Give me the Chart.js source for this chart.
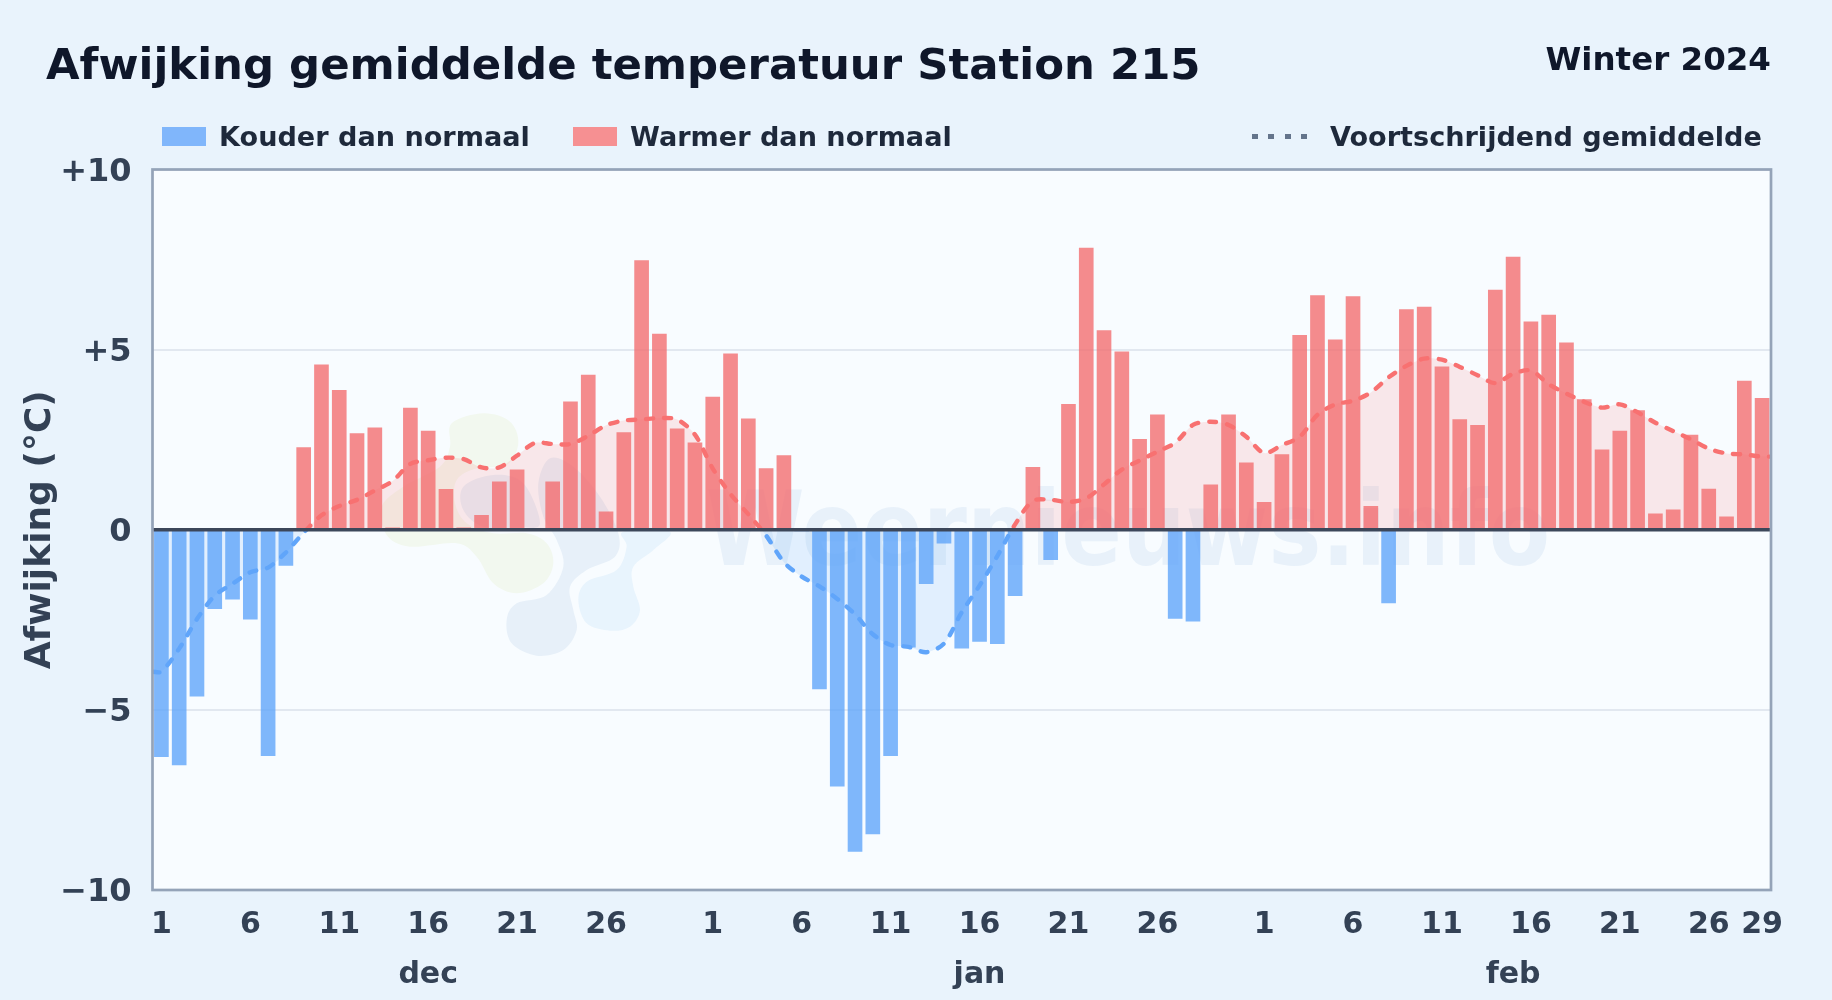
<!DOCTYPE html>
<html lang="nl">
<head>
<meta charset="utf-8">
<title>Afwijking gemiddelde temperatuur Station 215</title>
<script src="https://cdn.jsdelivr.net/npm/chart.js@4"></script>
<style>
  html, body { margin: 0; padding: 0; background: #e9f3fc; }
  body { width: 1832px; height: 1000px; position: relative; overflow: hidden; font-family: "DejaVu Sans", sans-serif; font-weight: 700; }
  canvas { position: absolute; left: 0; top: 0; }
  .txt { position: absolute; white-space: nowrap; line-height: 1; }
  #title { left: 46px; top: 43px; font-size: 43.4px; color: #0f172a; }
  #season { right: 61px; top: 43px; font-size: 32.5px; color: #0f172a; }
  .leg { font-size: 27.1px; color: #1e293b; top: 123px; }
  .sw { position: absolute; top: 127px; width: 44px; height: 19px; }
  #dots { position: absolute; left: 1252px; top: 134px; width: 56px; height: 5px;
    background: repeating-linear-gradient(90deg, #64748b 0 6px, transparent 6px 16.5px); }
</style>
</head>
<body>
<canvas id="chart" width="1832" height="1000"></canvas>
<div id="title" class="txt">Afwijking gemiddelde temperatuur Station 215</div>
<div id="season" class="txt">Winter 2024</div>
<div class="sw" style="left:162px;background:#80b6fb"></div>
<div class="txt leg" style="left:219px">Kouder dan normaal</div>
<div class="sw" style="left:573px;background:#f69092"></div>
<div class="txt leg" style="left:630px">Warmer dan normaal</div>
<div id="dots"></div>
<div class="txt leg" style="left:1330px">Voortschrijdend gemiddelde</div>
<script>
/* daily deviation from normal, 1 dec - 29 feb */
const decDev = [-6.3, -6.53, -4.62, -2.19, -1.93, -2.48, -6.27, -0.99, 2.28, 4.58, 3.87, 2.67, 2.83, 0.05, 3.38, 2.74, 1.12, 0.05, 0.4, 1.33, 1.66, 0, 1.33, 3.55, 4.29, 0.5, 2.7, 7.47, 5.43, 2.8, 2.41];
const janDev = [3.68, 4.88, 3.08, 1.7, 2.06, -0.03, -4.42, -7.12, -8.93, -8.44, -6.27, -3.26, -1.5, -0.37, -3.29, -3.1, -3.16, -1.83, 1.73, -0.83, 3.48, 7.82, 5.53, 4.94, 2.51, 3.19, -2.46, -2.54, 1.25, 3.19, 1.86];
const febDev = [0.76, 2.09, 5.4, 6.5, 5.27, 6.47, 0.65, -2.03, 6.11, 6.18, 4.52, 3.06, 2.9, 6.65, 7.57, 5.77, 5.96, 5.19, 3.61, 2.22, 2.74, 3.31, 0.44, 0.55, 2.63, 1.13, 0.36, 4.13, 3.65];

/* moving average, same days */
const decAvg = [-3.94, -3.3, -2.48, -1.83, -1.5, -1.18, -1.05, -0.63, -0.08, 0.4, 0.66, 0.83, 1.09, 1.35, 1.83, 1.93, 2.0, 1.96, 1.73, 1.73, 2.06, 2.41, 2.38, 2.38, 2.61, 2.9, 3.03, 3.06, 3.1, 3.06, 2.64];
const janAvg = [1.7, 0.99, 0.43, -0.16, -0.9, -1.3, -1.57, -1.92, -2.35, -2.9, -3.2, -3.25, -3.4, -3.16, -2.29, -1.55, -0.73, 0.15, 0.8, 0.83, 0.77, 0.87, 1.26, 1.67, 1.92, 2.17, 2.41, 2.91, 3.0, 2.91, 2.58];
const febAvg = [2.13, 2.35, 2.58, 3.19, 3.48, 3.58, 3.81, 4.23, 4.55, 4.75, 4.72, 4.52, 4.29, 4.07, 4.33, 4.42, 4.04, 3.78, 3.55, 3.39, 3.48, 3.26, 2.97, 2.74, 2.51, 2.25, 2.12, 2.09, 2.03];

const tickPos = [1, 6, 11, 16, 21, 26, 32, 37, 42, 47, 52, 57, 63, 68, 73, 78, 83, 88, 91];
const tickLabels = ['1', '6', '11', '16', '21', '26', '1', '6', '11', '16', '21', '26', '1', '6', '11', '16', '21', '26', '29'];
const monthPos = [16, 47, 77];
const monthLabels = ['dec', 'jan', 'feb'];
const yTicks = [-10, -5, 0, 5, 10];
const yLabels = ['\u221210', '\u22125', '0', '+5', '+10'];

const deviations = [...decDev, ...janDev, ...febDev];
const average = [...decAvg, ...janAvg, ...febAvg];

const RED = '#f87171';
const BLUE = '#60a5fa';
const TICK_COLOR = '#334155';
const FONT = '"DejaVu Sans", sans-serif';

const barData = deviations.map((v, i) => ({ x: i + 1, y: v }));
// the line runs on to both plot edges, holding its end values
const lineData = [
  { x: 0.5, y: average[0] },
  ...average.map((v, i) => ({ x: i + 1, y: v })),
  { x: 91.5, y: average[average.length - 1] }
];

function splitStroke(context) {
  const { ctx, chartArea, scales } = context.chart;
  if (!chartArea) return RED;
  const g = ctx.createLinearGradient(0, chartArea.top, 0, chartArea.bottom);
  const stop = (scales.y.getPixelForValue(0) - chartArea.top) / (chartArea.bottom - chartArea.top);
  g.addColorStop(0, RED);
  g.addColorStop(stop, RED);
  g.addColorStop(stop, BLUE);
  g.addColorStop(1, BLUE);
  return g;
}

// outlines of the faint logo, traced on a 3x grid from (360,390)
const LOGO = [
  { color: '#f2f8ef', pts: [[370,70],[450,95],[475,160],[440,225],[350,235],[290,270],[285,340],[320,400],[400,430],[500,430],[560,460],[580,520],[550,580],[470,610],[400,580],[350,500],[290,460],[150,470],[80,435],[65,350],[130,290],[240,230],[270,170],[275,100]] },
  { color: '#e7f0f9', pts: [[400,255],[490,280],[540,400],[480,412],[370,410],[310,360],[310,290]] },
  { color: '#e7f0f9', pts: [[570,205],[640,230],[720,320],[775,430],[765,500],[680,540],[630,590],[640,660],[650,720],[610,780],[530,797],[455,760],[440,690],[470,640],[560,615],[610,530],[590,450],[550,380],[535,280]] },
  { color: '#e8f4fd', pts: [[930,425],[880,480],[820,530],[820,590],[840,660],[810,710],[750,722],[680,700],[655,630],[680,575],[770,540],[800,470],[790,425]] }
];

function closedCurve(ctx, pts) {
  const n = pts.length;
  ctx.beginPath();
  ctx.moveTo(pts[0][0], pts[0][1]);
  for (let i = 0; i < n; i++) {
    const p0 = pts[(i - 1 + n) % n], p1 = pts[i], p2 = pts[(i + 1) % n], p3 = pts[(i + 2) % n];
    ctx.bezierCurveTo(
      p1[0] + (p2[0] - p0[0]) / 6, p1[1] + (p2[1] - p0[1]) / 6,
      p2[0] - (p3[0] - p1[0]) / 6, p2[1] - (p3[1] - p1[1]) / 6,
      p2[0], p2[1]);
  }
  ctx.closePath();
}

// plot background and the faint site logo + name behind the bars
const backdrop = {
  id: 'backdrop',
  beforeDraw(chart) {
    const { ctx, chartArea: a } = chart;
    ctx.save();
    ctx.fillStyle = '#f8fcff';
    ctx.fillRect(a.left, a.top, a.right - a.left, a.bottom - a.top);

    ctx.save();
    ctx.translate(360, 390);
    ctx.scale(1 / 3, 1 / 3);
    LOGO.forEach(shape => {
      closedCurve(ctx, shape.pts);
      ctx.fillStyle = shape.color;
      ctx.fill();
    });
    ctx.restore();

    ctx.save();
    ctx.translate(706, 565);
    ctx.scale(0.86, 1);
    ctx.font = '700 104px ' + FONT;
    ctx.fillStyle = 'rgba(70,130,200,0.085)';
    ctx.textAlign = 'left';
    ctx.textBaseline = 'alphabetic';
    ctx.fillText('Weernieuws.info', 0, 0);
    ctx.restore();
    ctx.restore();
  }
};

// zero line and plot frame sit on top of the bars
const frame = {
  id: 'frame',
  afterDatasetsDraw(chart) {
    const { ctx, chartArea: a, scales } = chart;
    const y0 = scales.y.getPixelForValue(0);
    ctx.save();
    ctx.strokeStyle = '#3c475a';
    ctx.lineWidth = 3.5;
    ctx.beginPath();
    ctx.moveTo(a.left, y0);
    ctx.lineTo(a.right, y0);
    ctx.stroke();
    ctx.strokeStyle = '#94a3b8';
    ctx.lineWidth = 2.7;
    ctx.strokeRect(a.left, a.top, a.right - a.left, a.bottom - a.top);
    ctx.restore();
  }
};

// y labels sit a little lower than canvas 'middle' puts them
const nudgeLabels = {
  id: 'nudgeLabels',
  afterUpdate(chart) {
    chart.scales.y.getLabelItems().forEach(item => { item.textOffset += 3; });
  }
};

Chart.defaults.font.family = FONT;
Chart.defaults.font.weight = '700';
Chart.defaults.animation = false;

new Chart(document.getElementById('chart'), {
  type: 'bar',
  data: {
    datasets: [
      {
        type: 'line',
        label: 'Voortschrijdend gemiddelde',
        data: lineData,
        order: 0,
        borderColor: splitStroke,
        borderWidth: 4.4,
        borderDash: [7, 11],
        borderCapStyle: 'round',
        tension: 0.3,
        pointRadius: 0,
        fill: { target: { value: 0 }, above: 'rgba(248,113,113,0.15)', below: 'rgba(96,165,250,0.15)' }
      },
      {
        type: 'bar',
        label: 'Afwijking',
        data: barData,
        order: 1,
        barThickness: 14,
        backgroundColor: deviations.map(v => v < 0 ? 'rgba(96,165,250,0.8)' : 'rgba(243,110,112,0.8)')
      }
    ]
  },
  options: {
    responsive: false,
    devicePixelRatio: 1,
    layout: { padding: { top: 169.5, right: 61, left: 0, bottom: 0 } },
    plugins: { legend: { display: false }, tooltip: { enabled: false } },
    scales: {
      x: {
        type: 'linear',
        position: 'bottom',
        min: 0.5,
        max: 91.5,
        offset: false,
        afterBuildTicks: s => { s.ticks = tickPos.map(v => ({ value: v })); },
        afterTickToLabelConversion: s => { s.ticks.forEach((t, i) => { t.label = tickLabels[i]; }); },
        afterFit: s => { s.height = 58; },
        grid: { display: false },
        border: { display: false },
        ticks: { color: TICK_COLOR, font: { size: 30 }, padding: 9, maxRotation: 0, autoSkip: false, align: 'center' }
      },
      months: {
        type: 'linear',
        position: 'bottom',
        min: 0.5,
        max: 91.5,
        offset: false,
        afterBuildTicks: s => { s.ticks = monthPos.map(v => ({ value: v })); },
        afterTickToLabelConversion: s => { s.ticks.forEach((t, i) => { t.label = monthLabels[i]; }); },
        afterFit: s => { s.height = 52; },
        grid: { display: false },
        border: { display: false },
        ticks: { color: TICK_COLOR, font: { size: 30 }, padding: 1, maxRotation: 0, autoSkip: false }
      },
      y: {
        min: -10,
        max: 10,
        afterBuildTicks: s => { s.ticks = yTicks.map(v => ({ value: v })); },
        afterTickToLabelConversion: s => { s.ticks.forEach((t, i) => { t.label = yLabels[i]; }); },
        afterFit: s => { s.width = 152.5; },
        grid: { color: c => c.tick.value === 0 ? 'transparent' : '#e2e8f0', lineWidth: 2, drawTicks: false },
        border: { display: false },
        ticks: { color: TICK_COLOR, font: { size: 32 }, padding: 21 },
        title: { display: true, text: 'Afwijking (\u00b0C)', color: TICK_COLOR, font: { size: 36 }, padding: { top: 19, bottom: 0 } }
      }
    }
  },
  plugins: [backdrop, frame, nudgeLabels]
});
</script>
</body>
</html>
